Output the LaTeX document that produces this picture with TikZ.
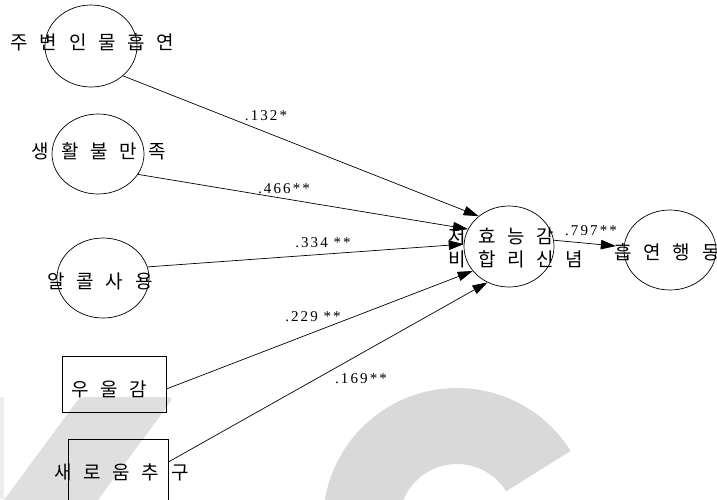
\documentclass[tikz,border=0pt]{standalone}
\usepackage{fontspec}
\setmainfont{Liberation Serif}
\newfontfamily\kr[WordSpace=2.75]{Noto Sans CJK KR}
\newfontfamily\lab[LetterSpace=14]{Liberation Serif}
\usetikzlibrary{arrows.meta,shapes.geometric,calc}
\definecolor{wmA}{gray}{0.875}
\definecolor{wmB}{gray}{0.85}
\definecolor{wmC}{gray}{0.93}
\tikzset{
  ell/.style={draw, ellipse, line width=0.7pt, inner sep=0pt},
  boxnode/.style={draw, rectangle, line width=0.7pt, inner sep=0pt},
  ktext/.style={font=\kr\fontsize{19}{21}\selectfont, inner sep=0pt, anchor=base},
  lbl/.style={font=\lab\fontsize{15}{17}\selectfont, inner sep=0pt, anchor=base},
  conn/.style={-{Triangle[length=15pt,width=9.5pt]}, line width=0.7pt}
}
\begin{document}
\begin{tikzpicture}[x=1pt, y=-1pt]
\useasboundingbox (0,0) rectangle (717,499);
% watermark
\begin{scope}
\clip (0,0) rectangle (717,499);
\fill[wmC] (0,397) rectangle (4,499);
\fill[wmA, rounded corners=6pt] (80,397) -- (174,397) -- (92,508) -- (-2,508) -- cycle;
\fill[wmB] (457,522) ++(-32:134) arc[start angle=-32, end angle=-200, radius=134]
  -- ($(457,522)+(-200:58)$) arc[start angle=-200, end angle=-32, radius=58] -- cycle;
\end{scope}
% shapes
\node[ell, minimum width=92pt, minimum height=82pt] (e1) at (91,46) {};
\node[ell, minimum width=92pt, minimum height=80pt] (e2) at (98,154) {};
\node[ell, minimum width=92pt, minimum height=80pt] (e3) at (103,278) {};
\node[boxnode, minimum width=104pt, minimum height=56pt] (b1) at (114,384) {};
\node[boxnode, minimum width=100pt, minimum height=70pt] (b2) at (118,474) {};
\node[ell, minimum width=90pt, minimum height=81pt] (c) at (509,246.5) {};
\node[ell, minimum width=92pt, minimum height=80pt] (r) at (670,250) {};
% texts
\node[ktext] (t1) at (92.5,49.5) {주 변 인 물 흡 연};
\node[ktext] (t2) at (99,158.5) {생 활 불 만 족};
\node[ktext] (t3) at (100,288.5) {알 콜 사 용};
\node[ktext] (t4) at (109,396.5) {우 울 감};
\node[ktext] (t5) at (121.5,479.5) {새 로 움 추 구};
\node[ktext] (t6) at (501.5,243.5) {저 효 능 감};
\node[ktext] (t7) at (516,266.5) {비 합 리 신 념};
\node[ktext] (t8) at (667,259.5) {흡 연 행 동};
% connectors
\draw[conn] (e1.-43) -- (c.135);
\draw[conn] (e2.-27) -- (c.157);
\draw[conn] (e3.14) -- (c.177);
\draw[conn] ([yshift=-5pt]b1.east) -- (c.214);
\draw[conn] ([yshift=12pt]b2.east) -- (c.239);
\draw[conn, shorten >=8pt] (c.8) -- (r.176);
% labels
\node[lbl] (l1) at (266,120) {.132*};
\node[lbl] (l2) at (284,193) {.466**};
\node[lbl] (l3) at (323,247) {.334 **};
\node[lbl] (l4) at (313,321) {.229 **};
\node[lbl] (l5) at (361,383) {.169**};
\node[lbl] (l6) at (591,235) {.797**};
\end{tikzpicture}
\end{document}
